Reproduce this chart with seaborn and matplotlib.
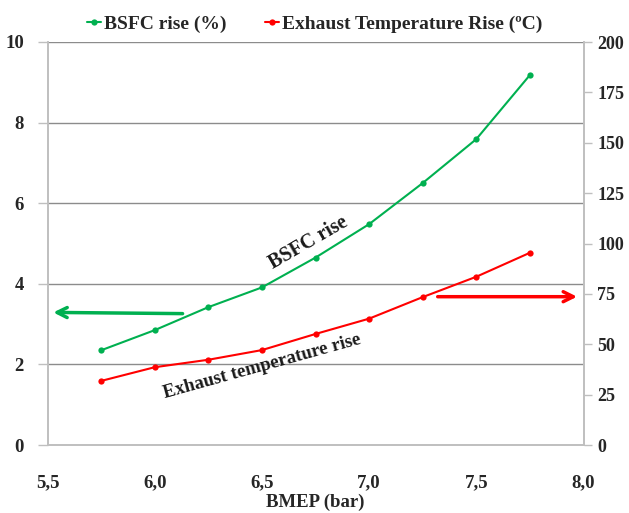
import matplotlib
matplotlib.use("Agg")
import matplotlib.pyplot as plt
import seaborn as sns
import pandas as pd

# ---- data ----
bmep = [5.75, 6.0, 6.25, 6.5, 6.75, 7.0, 7.25, 7.5, 7.75]
bsfc_rise = [2.35, 2.85, 3.42, 3.91, 4.65, 5.48, 6.5, 7.59, 9.18]
exhaust_rise = [31.8, 38.6, 42.3, 47.1, 55.1, 62.7, 73.4, 83.5, 95.4]

x_ticks = [5.5, 6.0, 6.5, 7.0, 7.5, 8.0]
x_tick_labels = ["5,5", "6,0", "6,5", "7,0", "7,5", "8,0"]
left_ticks = [0, 2, 4, 6, 8, 10]
right_ticks = [0, 25, 50, 75, 100, 125, 150, 175, 200]

bsfc_label = "BSFC rise (%)"
exh_label = "Exhaust Temperature Rise (ºC)"

df = pd.DataFrame({"bmep": bmep, "bsfc": bsfc_rise, "exh": exhaust_rise})

sns.set_style("white")
plt.rcParams["font.family"] = ["Liberation Serif", "DejaVu Serif"]
plt.rcParams["font.weight"] = "bold"

green = "#00B050"
red = "#FF0000"
grid_c = "#8C8C8C"
spine_c = "#BFBFBF"
fs = 13.5

fig = plt.figure(figsize=(6.29, 5.13), dpi=100)
ax = fig.add_axes([47.5 / 629, 1 - 445 / 513, (583.5 - 47.5) / 629, (445 - 42) / 513])
ax2 = ax.twinx()

sns.lineplot(data=df, x="bmep", y="bsfc", ax=ax, color=green, marker="o",
             markersize=4.5, markeredgewidth=0, linewidth=1.5, label=bsfc_label, legend=False)
sns.lineplot(data=df, x="bmep", y="exh", ax=ax2, color=red, marker="o",
             markersize=4.5, markeredgewidth=0, linewidth=1.5, label=exh_label, legend=False)

ax.set_xlim(5.5, 8.0)
ax.set_ylim(0, 10)
ax2.set_ylim(0, 200)
ax.set_xticks(x_ticks)
ax.set_xticklabels(x_tick_labels)
ax.set_yticks(left_ticks)
ax2.set_yticks(right_ticks)
ax.set_ylabel("")
ax2.set_ylabel("")
ax.set_xlabel("BMEP (bar)", fontsize=fs, fontweight="bold", labelpad=2)

ax.yaxis.grid(True, color=grid_c, linewidth=1)
ax.xaxis.grid(False)
ax2.grid(False)
ax.set_axisbelow(True)

for a in (ax, ax2):
    for s in a.spines.values():
        s.set_color(spine_c)
        s.set_linewidth(1.2)
    a.spines["top"].set_visible(False)
ax.tick_params(axis="x", direction="out", length=5, width=1, color=spine_c,
               labelsize=fs, pad=16)
ax.tick_params(axis="y", direction="out", length=7, width=1, color=spine_c,
               labelsize=fs, pad=10)
ax2.tick_params(axis="y", direction="out", length=6, width=1, color=spine_c,
                labelsize=fs - 0.5, pad=4)
for lab in ax.get_xticklabels() + ax.get_yticklabels() + ax2.get_yticklabels():
    lab.set_fontweight("bold")

# annotations
ax.text(6.715, 5.01, "BSFC rise", rotation=30, ha="center", va="center",
        rotation_mode="anchor", fontsize=fs + 1, fontweight="bold", color="#1a1a1a")
ax.text(6.5, 1.94, "Exhaust temperature rise", rotation=15.5, ha="center", va="center",
        rotation_mode="anchor", fontsize=fs, fontweight="bold", color="#1a1a1a")

ax.annotate("", xy=(5.527, 3.29), xytext=(6.13, 3.26),
            arrowprops=dict(arrowstyle="->", color=green, lw=2.5, mutation_scale=18,
                            shrinkA=0, shrinkB=0))
ax2.annotate("", xy=(7.97, 73.6), xytext=(7.32, 73.6),
             arrowprops=dict(arrowstyle="->", color=red, lw=2.5, mutation_scale=18,
                             shrinkA=0, shrinkB=0))

h1, l1 = ax.get_legend_handles_labels()
h2, l2 = ax2.get_legend_handles_labels()
fig.legend(h1 + h2, l1 + l2, loc="center", bbox_to_anchor=(0.5, 0.953), ncol=2,
           frameon=False, handlelength=0.7, handletextpad=0.15,
           columnspacing=2.0, prop={"weight": "bold", "size": fs + 0.5})

fig.savefig("out.png", dpi=100)
